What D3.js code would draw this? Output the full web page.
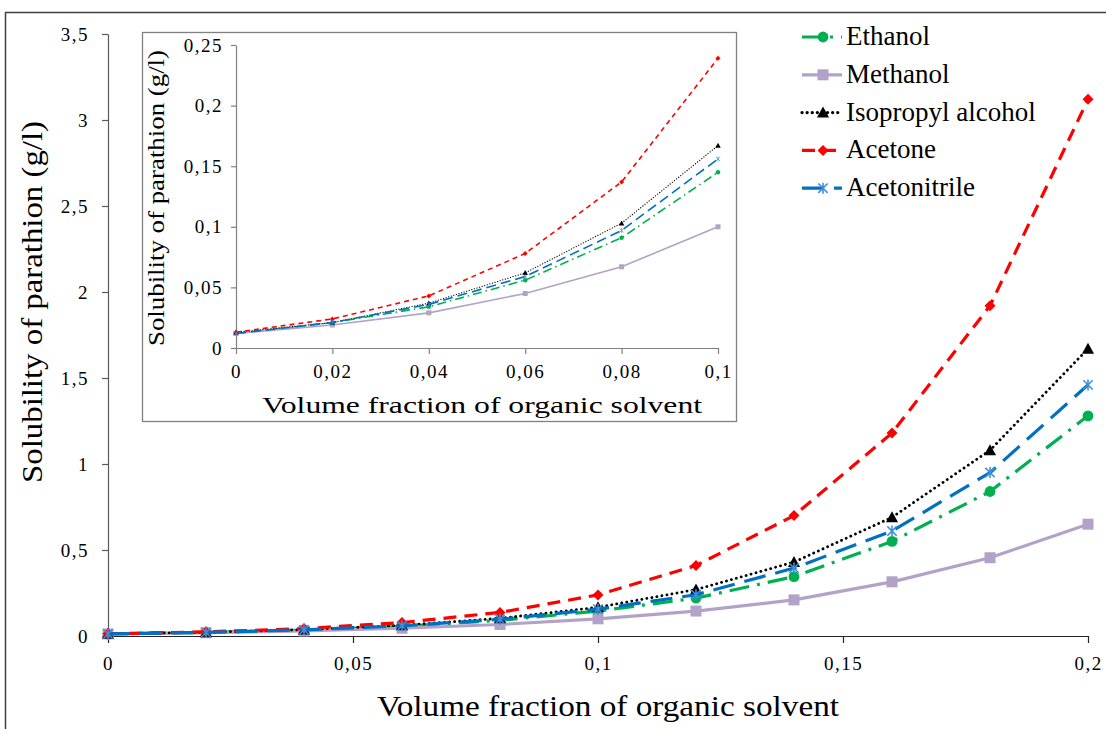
<html>
<script src="https://d3js.org/d3.v7.min.js"></script>
<style>
  body { margin: 0; background: #fff; }
  text { font-family: "Liberation Serif", "DejaVu Serif", serif; fill: #000; }
</style>
<body>
<div id="chart_area"></div>
</body>
<script>

// volume fraction of organic solvent
var xFrac = [0, 0.02, 0.04, 0.06, 0.08, 0.1, 0.12, 0.14, 0.16, 0.18, 0.2];

// solubility of parathion (g/l)
var ethanol      = [0.012, 0.021, 0.034, 0.056, 0.091, 0.145, 0.22, 0.345, 0.55, 0.84, 1.28];
var methanol     = [0.012, 0.019, 0.029, 0.045, 0.067, 0.100, 0.145, 0.21, 0.315, 0.455, 0.65];
var isopropyl    = [0.013, 0.021, 0.037, 0.062, 0.103, 0.167, 0.27, 0.43, 0.69, 1.08, 1.67];
var acetone      = [0.013, 0.024, 0.043, 0.078, 0.137, 0.239, 0.41, 0.70, 1.18, 1.92, 3.12];
var acetonitrile = [0.012, 0.021, 0.036, 0.059, 0.097, 0.156, 0.24, 0.395, 0.61, 0.95, 1.46];

var seriesNames = ["Ethanol", "Methanol", "Isopropyl alcohol", "Acetone", "Acetonitrile"];

var mainXTicks = [0, 0.05, 0.1, 0.15, 0.2];
var mainYTicks = [0, 0.5, 1, 1.5, 2, 2.5, 3, 3.5];
var insetXTicks = [0, 0.02, 0.04, 0.06, 0.08, 0.1];
var insetYTicks = [0, 0.05, 0.1, 0.15, 0.2, 0.25];

var series = [
  {name: seriesNames[0], values: ethanol,      color: "#00b050", dash: "20 8 3 8", cap: "butt",  marker: "circle",   mcolor: "#00b050"},
  {name: seriesNames[1], values: methanol,     color: "#b3a2c7", dash: null,       cap: "butt",  marker: "square",   mcolor: "#b3a2c7"},
  {name: seriesNames[2], values: isopropyl,    color: "#000000", dash: "0.1 5",    cap: "round", marker: "triangle", mcolor: "#000000"},
  {name: seriesNames[3], values: acetone,      color: "#ff0000", dash: "13 8",     cap: "butt",  marker: "diamond",  mcolor: "#ff0000"},
  {name: seriesNames[4], values: acetonitrile, color: "#0070c0", dash: "22 10",    cap: "butt",  marker: "asterisk", mcolor: "#3d8fdc"}
];

var comma = function(d) { return String(d).replace(".", ","); };

var svg = d3.select("#chart_area").append("svg")
    .attr("width", 1106).attr("height", 729);

// outer frame (partly outside the picture)
svg.append("path").attr("d", "M5.5,729 L5.5,12.5 L1106,12.5")
    .attr("fill", "none").attr("stroke", "#404040").attr("stroke-width", 1.5);

function drawMarker(g, type, cx, cy, s, color) {
  var p;
  if (type == "circle") {
    g.append("circle").attr("cx", cx).attr("cy", cy).attr("r", s * 0.45).attr("fill", color);
  } else if (type == "square") {
    g.append("rect").attr("x", cx - s / 2).attr("y", cy - s / 2).attr("width", s).attr("height", s).attr("fill", color);
  } else if (type == "triangle") {
    p = d3.path();
    p.moveTo(cx, cy - s * 0.55); p.lineTo(cx + s * 0.55, cy + s * 0.45); p.lineTo(cx - s * 0.55, cy + s * 0.45); p.closePath();
    g.append("path").attr("d", p.toString()).attr("fill", color);
  } else if (type == "diamond") {
    p = d3.path();
    p.moveTo(cx, cy - s / 2); p.lineTo(cx + s / 2, cy); p.lineTo(cx, cy + s / 2); p.lineTo(cx - s / 2, cy); p.closePath();
    g.append("path").attr("d", p.toString()).attr("fill", color);
  } else if (type == "asterisk") {
    var r = s / 2;
    p = d3.path();
    p.moveTo(cx, cy - r); p.lineTo(cx, cy + r);
    p.moveTo(cx - r * 0.85, cy - r * 0.85); p.lineTo(cx + r * 0.85, cy + r * 0.85);
    p.moveTo(cx - r * 0.85, cy + r * 0.85); p.lineTo(cx + r * 0.85, cy - r * 0.85);
    g.append("path").attr("d", p.toString()).attr("stroke", color).attr("stroke-width", s / 7).attr("fill", "none");
  }
}

function styleAxis(g, color, size) {
  g.attr("font-family", null).attr("font-size", null);
  g.select(".domain").attr("stroke", color).attr("stroke-width", 1.2);
  g.selectAll(".tick line").attr("stroke", color).attr("stroke-width", 1.2);
  g.selectAll(".tick text").attr("fill", "#000")
    .style("font-family", '"Liberation Serif", serif').style("font-size", size + "px")
    .style("letter-spacing", "1.5px");
}

// ---------------- main chart ----------------
var x = d3.scaleLinear().domain([0, 0.2]).range([108, 1088]);
var y = d3.scaleLinear().domain([0, 3.5]).range([636, 34]);

var yAxis = svg.append("g").attr("transform", "translate(108,0)")
    .call(d3.axisLeft(y).tickValues(mainYTicks).tickFormat(comma).tickSize(6).tickSizeOuter(0).tickPadding(13));
styleAxis(yAxis, "#595959", 19);

var xAxis = svg.append("g").attr("transform", "translate(0,636)")
    .call(d3.axisBottom(x).tickValues(mainXTicks).tickFormat(comma).tickSize(7).tickSizeOuter(0).tickPadding(14));
styleAxis(xAxis, "#262626", 19);

svg.append("text").attr("x", 608).attr("y", 716).attr("text-anchor", "middle")
    .attr("textLength", 462).attr("lengthAdjust", "spacingAndGlyphs")
    .style("font-size", "30px").text("Volume fraction of  organic solvent");

svg.append("text").attr("transform", "translate(42,302) rotate(-90)").attr("text-anchor", "middle")
    .attr("textLength", 362).attr("lengthAdjust", "spacingAndGlyphs")
    .style("font-size", "29px").text("Solubility of parathion (g/l)");

var mainLine = d3.line().x(function(d, i) { return x(xFrac[i]); }).y(function(d) { return y(d); });

series.forEach(function(s) {
  var g = svg.append("g");
  g.append("path").attr("d", mainLine(s.values)).attr("fill", "none")
    .attr("stroke", s.color).attr("stroke-width", s.marker == "triangle" ? 2.8 : 3.2)
    .attr("stroke-dasharray", s.dash).attr("stroke-linecap", s.cap);
  s.values.forEach(function(v, i) {
    drawMarker(g, s.marker, x(xFrac[i]), y(v), s.marker == "circle" ? 12 : 11, s.mcolor);
  });
});

// ---------------- legend ----------------
var legend = svg.append("g");
series.forEach(function(s, i) {
  var ly = 37 + i * 37.8;
  legend.append("line").attr("x1", 802).attr("x2", 842).attr("y1", ly).attr("y2", ly)
    .attr("stroke", s.color).attr("stroke-width", 3.2)
    .attr("stroke-dasharray", s.dash).attr("stroke-linecap", s.cap);
  drawMarker(legend, s.marker, 823, ly, s.marker == "circle" ? 12 : 11, s.mcolor);
  legend.append("text").attr("x", 846).attr("y", ly + 8).style("font-size", "27px").text(s.name);
});

// ---------------- inset ----------------
var inset = svg.append("g");
inset.append("rect").attr("x", 142.5).attr("y", 32.5).attr("width", 594).attr("height", 389)
    .attr("fill", "#fff").attr("stroke", "#808080").attr("stroke-width", 1.3);

var xi = d3.scaleLinear().domain([0, 0.1]).range([236, 718]);
var yi = d3.scaleLinear().domain([0, 0.25]).range([348, 45]);

var yiAxis = inset.append("g").attr("transform", "translate(236,0)")
    .call(d3.axisLeft(yi).tickValues(insetYTicks).tickFormat(comma).tickSize(5).tickSizeOuter(0).tickPadding(8));
styleAxis(yiAxis, "#808080", 19);

var xiAxis = inset.append("g").attr("transform", "translate(0,348)")
    .call(d3.axisBottom(xi).tickValues(insetXTicks).tickFormat(comma).tickSize(6).tickSizeOuter(0).tickPadding(11));
styleAxis(xiAxis, "#808080", 19);

inset.append("text").attr("x", 482).attr("y", 413).attr("text-anchor", "middle")
    .attr("textLength", 440).attr("lengthAdjust", "spacingAndGlyphs")
    .style("font-size", "24px").text("Volume fraction of  organic solvent");

inset.append("text").attr("transform", "translate(164,198) rotate(-90)").attr("text-anchor", "middle")
    .attr("textLength", 296).attr("lengthAdjust", "spacingAndGlyphs")
    .style("font-size", "24px").text("Solubility of  parathion (g/l)");

var insetLine = d3.line().x(function(d, i) { return xi(xFrac[i]); }).y(function(d) { return yi(d); });

var dashSmall = {"20 8 3 8": "9 4 1.5 4", "0.1 5": "0.1 2.6", "13 8": "5 4", "22 10": "10 5"};

series.forEach(function(s) {
  var g = inset.append("g");
  var vals = s.values.slice(0, insetXTicks.length);
  g.append("path").attr("d", insetLine(vals)).attr("fill", "none")
    .attr("stroke", s.color).attr("stroke-width", s.marker == "triangle" ? 1.2 : 1.6)
    .attr("stroke-dasharray", s.dash ? dashSmall[s.dash] : null).attr("stroke-linecap", s.cap);
  vals.forEach(function(v, i) {
    drawMarker(g, s.marker, xi(xFrac[i]), yi(v), 5, s.mcolor);
  });
});

</script>
</html>
